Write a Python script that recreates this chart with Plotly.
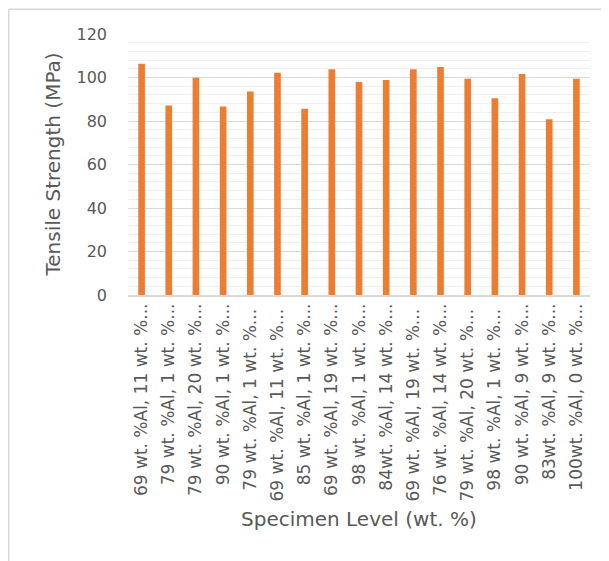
import plotly.graph_objects as go

categories = [
    "69 wt. %Al, 11 wt. %...",
    "79 wt. %Al, 1 wt. %...",
    "79 wt. %Al, 20 wt. %...",
    "90 wt. %Al, 1 wt. %...",
    "79 wt. %Al, 1 wt. %... ",
    "69 wt. %Al, 11 wt. %... ",
    "85 wt. %Al, 1 wt. %...",
    "69 wt. %Al, 19 wt. %...",
    "98 wt. %Al, 1 wt. %...",
    "84wt. %Al, 14 wt. %...",
    "69 wt. %Al, 19 wt. %... ",
    "76 wt. %Al, 14 wt. %...",
    "79 wt. %Al, 20 wt. %... ",
    "98 wt. %Al, 1 wt. %... ",
    "90 wt. %Al, 9 wt. %...",
    "83wt. %Al, 9 wt. %...",
    "100wt. %Al, 0 wt. %...",
]
tensile_strength = [106.3, 87.1, 99.9, 86.7, 93.6, 102.2, 85.6, 103.8, 97.9,
                    98.9, 103.8, 104.8, 99.4, 90.5, 101.6, 80.8, 99.4]
y_ticks = [0, 20, 40, 60, 80, 100, 120]

GRAY = "#595959"
FONT = "DejaVu Sans"

# page body has an 8px margin, so figure coords = screen coords - 8
W, H = 601, 553
L, R, T, B = 120, 19, 25.5, 266
PW = W - L - R
PH = H - T - B
BOTTOM = H - B  # figure y of plot bottom


def px(fx):
    return (fx - L) / PW


def py(fy):
    return (BOTTOM - fy) / PH


fig = go.Figure(go.Bar(
    x=categories, y=tensile_strength,
    marker=dict(color="#ED7D31", line=dict(width=0)),
))

fig.update_layout(
    width=W, height=H,
    margin=dict(l=L, r=R, t=T, b=B, autoexpand=False),
    paper_bgcolor="white", plot_bgcolor="white",
    bargap=0.755,
    showlegend=False,
    font=dict(family=FONT, color=GRAY),
)
fig.update_xaxes(
    type="category", tickangle=-90, showgrid=False,
    tickfont=dict(family=FONT, size=17, color=GRAY),
    showline=True, linecolor="#d9d9d9", linewidth=1.5,
    ticks="", ticklabelstandoff=0, automargin=False,
)
fig.update_yaxes(
    range=[0, 120], tickvals=y_ticks,
    tickfont=dict(family=FONT, size=16, color=GRAY),
    gridcolor="#d9d9d9", gridwidth=1,
    zeroline=False, showline=False, ticks="",
    ticklabelstandoff=20, automargin=False,
    minor=dict(dtick=4, showgrid=True, gridcolor="#f0f0f0", gridwidth=1),
)

fig.add_annotation(
    text="Tensile Strength (MPa)", xref="paper", yref="paper",
    x=px(44), y=0.5, xanchor="center", yanchor="middle",
    textangle=-90, showarrow=False,
    font=dict(family=FONT, size=20, color=GRAY),
)
fig.add_annotation(
    text="Specimen Level (wt. %)", xref="paper", yref="paper",
    x=0.5, y=py(511), xanchor="center", yanchor="middle",
    showarrow=False,
    font=dict(family=FONT, size=20, color=GRAY),
)

# chart area border (left and top edges visible)
fig.add_shape(type="line", xref="paper", yref="paper",
              x0=px(0.75), x1=px(0.75), y0=py(0.75), y1=py(H + 5),
              line=dict(color="#d9d9d9", width=1.5))
fig.add_shape(type="line", xref="paper", yref="paper",
              x0=px(0.75), x1=px(W + 5), y0=py(0.75), y1=py(0.75),
              line=dict(color="#d9d9d9", width=1.5))

fig.write_html("out.html")
